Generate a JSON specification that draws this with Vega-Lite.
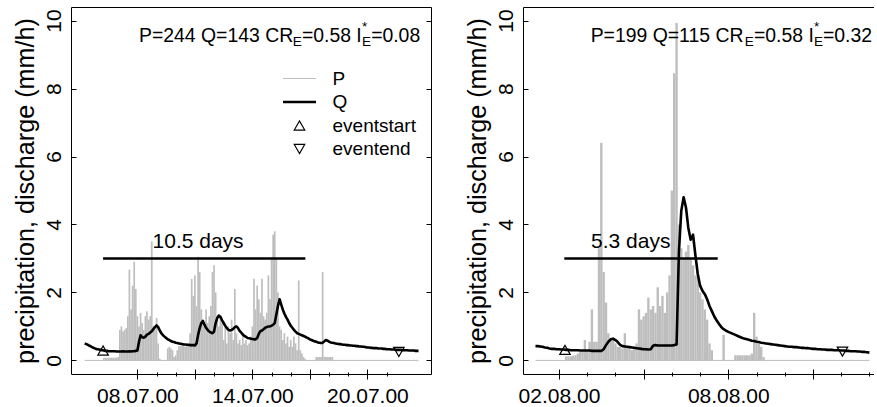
{
"$schema": "https://vega.github.io/schema/vega-lite/v6.json",
"padding": {"left": 13, "top": 7, "right": 0, "bottom": 0},
"config": {
  "font": "Liberation Sans",
  "view": {"stroke": null},
  "axis": {"grid": false, "domainColor": "black", "tickColor": "black", "labelColor": "black", "titleColor": "black", "labelFont": "Liberation Sans", "titleFont": "Liberation Sans", "labelFontSize": 21, "titleFontSize": 25.2, "titleFontWeight": "normal", "domainWidth": 1, "tickWidth": 1}
},
"datasets": {
"L": [
{"t":"2000-07-05T06:00","p":0,"q":0.50},{"t":"2000-07-05T08:00","p":0,"q":0.48},{"t":"2000-07-05T10:00","p":0,"q":0.46},{"t":"2000-07-05T12:00","p":0,"q":0.43},{"t":"2000-07-05T14:00","p":0,"q":0.41},{"t":"2000-07-05T16:00","p":0,"q":0.38},{"t":"2000-07-05T18:00","p":0,"q":0.36},{"t":"2000-07-05T20:00","p":0,"q":0.34},{"t":"2000-07-05T22:00","p":0,"q":0.33},
{"t":"2000-07-06T00:00","p":0,"q":0.32},{"t":"2000-07-06T02:00","p":0,"q":0.31},{"t":"2000-07-06T04:00","p":0,"q":0.30},{"t":"2000-07-06T06:00","p":0.08,"q":0.29},{"t":"2000-07-06T08:00","p":0.08,"q":0.28},{"t":"2000-07-06T10:00","p":0.08,"q":0.28},{"t":"2000-07-06T12:00","p":0.08,"q":0.27},{"t":"2000-07-06T14:00","p":0.08,"q":0.27},{"t":"2000-07-06T16:00","p":0.08,"q":0.27},{"t":"2000-07-06T18:00","p":0.08,"q":0.27},{"t":"2000-07-06T20:00","p":0.08,"q":0.27},{"t":"2000-07-06T22:00","p":0.08,"q":0.26},
{"t":"2000-07-07T00:00","p":0.1,"q":0.26},{"t":"2000-07-07T02:00","p":0.9,"q":0.26},{"t":"2000-07-07T04:00","p":1.0,"q":0.26},{"t":"2000-07-07T06:00","p":0.85,"q":0.27},{"t":"2000-07-07T08:00","p":0.9,"q":0.26},{"t":"2000-07-07T10:00","p":0.95,"q":0.26},{"t":"2000-07-07T12:00","p":1.3,"q":0.26},{"t":"2000-07-07T14:00","p":2.67,"q":0.27},{"t":"2000-07-07T16:00","p":1.5,"q":0.26},{"t":"2000-07-07T18:00","p":2.2,"q":0.27},{"t":"2000-07-07T20:00","p":2.9,"q":0.27},{"t":"2000-07-07T22:00","p":2.1,"q":0.28},
{"t":"2000-07-08T00:00","p":1.3,"q":0.29},{"t":"2000-07-08T02:00","p":1.0,"q":0.55},{"t":"2000-07-08T04:00","p":1.4,"q":0.74},{"t":"2000-07-08T06:00","p":1.1,"q":0.68},{"t":"2000-07-08T08:00","p":0.9,"q":0.67},{"t":"2000-07-08T10:00","p":1.3,"q":0.70},{"t":"2000-07-08T12:00","p":1.45,"q":0.76},{"t":"2000-07-08T14:00","p":1.2,"q":0.78},{"t":"2000-07-08T16:00","p":1.3,"q":0.82},{"t":"2000-07-08T18:00","p":3.5,"q":0.86},{"t":"2000-07-08T20:00","p":1.0,"q":0.92},{"t":"2000-07-08T22:00","p":0.9,"q":0.98},
{"t":"2000-07-09T00:00","p":1.25,"q":1.03},{"t":"2000-07-09T02:00","p":0.5,"q":0.98},{"t":"2000-07-09T04:00","p":0.05,"q":0.88},{"t":"2000-07-09T06:00","p":0,"q":0.80},{"t":"2000-07-09T08:00","p":0,"q":0.74},{"t":"2000-07-09T10:00","p":0,"q":0.70},{"t":"2000-07-09T12:00","p":0,"q":0.66},{"t":"2000-07-09T14:00","p":0.35,"q":0.62},{"t":"2000-07-09T16:00","p":0.4,"q":0.60},{"t":"2000-07-09T18:00","p":0.35,"q":0.57},{"t":"2000-07-09T20:00","p":0.3,"q":0.55},{"t":"2000-07-09T22:00","p":0.1,"q":0.54},
{"t":"2000-07-10T00:00","p":0.15,"q":0.52},{"t":"2000-07-10T02:00","p":0.3,"q":0.51},{"t":"2000-07-10T04:00","p":0.42,"q":0.50},{"t":"2000-07-10T06:00","p":0.42,"q":0.49},{"t":"2000-07-10T08:00","p":0.45,"q":0.48},{"t":"2000-07-10T10:00","p":0.42,"q":0.47},{"t":"2000-07-10T12:00","p":0.4,"q":0.47},{"t":"2000-07-10T14:00","p":0.45,"q":0.46},{"t":"2000-07-10T16:00","p":0.5,"q":0.46},{"t":"2000-07-10T18:00","p":0.8,"q":0.45},{"t":"2000-07-10T20:00","p":2.4,"q":0.45},{"t":"2000-07-10T22:00","p":1.9,"q":0.45},
{"t":"2000-07-11T00:00","p":2.5,"q":0.44},{"t":"2000-07-11T02:00","p":1.6,"q":0.50},{"t":"2000-07-11T04:00","p":3.05,"q":0.75},{"t":"2000-07-11T06:00","p":2.6,"q":0.95},{"t":"2000-07-11T08:00","p":1.5,"q":1.10},{"t":"2000-07-11T10:00","p":1.2,"q":1.16},{"t":"2000-07-11T12:00","p":1.0,"q":1.05},{"t":"2000-07-11T14:00","p":1.5,"q":0.96},{"t":"2000-07-11T16:00","p":1.1,"q":0.90},{"t":"2000-07-11T18:00","p":1.3,"q":0.85},{"t":"2000-07-11T20:00","p":1.6,"q":0.82},{"t":"2000-07-11T22:00","p":2.6,"q":0.80},
{"t":"2000-07-12T00:00","p":2.8,"q":0.85},{"t":"2000-07-12T02:00","p":2.0,"q":1.10},{"t":"2000-07-12T04:00","p":1.2,"q":1.25},{"t":"2000-07-12T06:00","p":1.0,"q":1.32},{"t":"2000-07-12T08:00","p":1.3,"q":1.28},{"t":"2000-07-12T10:00","p":1.1,"q":1.18},{"t":"2000-07-12T12:00","p":0.6,"q":1.10},{"t":"2000-07-12T14:00","p":1.0,"q":1.02},{"t":"2000-07-12T16:00","p":0.5,"q":0.95},{"t":"2000-07-12T18:00","p":1.0,"q":0.90},{"t":"2000-07-12T20:00","p":0.8,"q":0.88},{"t":"2000-07-12T22:00","p":1.2,"q":0.90},
{"t":"2000-07-13T00:00","p":0.6,"q":0.93},{"t":"2000-07-13T02:00","p":2.1,"q":0.98},{"t":"2000-07-13T04:00","p":0.8,"q":1.00},{"t":"2000-07-13T06:00","p":0.5,"q":0.95},{"t":"2000-07-13T08:00","p":0.6,"q":0.87},{"t":"2000-07-13T10:00","p":0.45,"q":0.82},{"t":"2000-07-13T12:00","p":0.8,"q":0.76},{"t":"2000-07-13T14:00","p":0.5,"q":0.72},{"t":"2000-07-13T16:00","p":0.6,"q":0.69},{"t":"2000-07-13T18:00","p":0.45,"q":0.66},{"t":"2000-07-13T20:00","p":0.5,"q":0.65},{"t":"2000-07-13T22:00","p":0.7,"q":0.64},
{"t":"2000-07-14T00:00","p":1.0,"q":0.63},{"t":"2000-07-14T02:00","p":2.4,"q":0.62},{"t":"2000-07-14T04:00","p":1.5,"q":0.62},{"t":"2000-07-14T06:00","p":2.2,"q":0.66},{"t":"2000-07-14T08:00","p":1.8,"q":0.78},{"t":"2000-07-14T10:00","p":1.4,"q":0.86},{"t":"2000-07-14T12:00","p":2.4,"q":0.88},{"t":"2000-07-14T14:00","p":1.3,"q":0.92},{"t":"2000-07-14T16:00","p":1.2,"q":0.96},{"t":"2000-07-14T18:00","p":1.4,"q":0.98},{"t":"2000-07-14T20:00","p":2.5,"q":1.00},{"t":"2000-07-14T22:00","p":1.8,"q":1.00},
{"t":"2000-07-15T00:00","p":3.0,"q":1.02},{"t":"2000-07-15T02:00","p":3.7,"q":1.05},{"t":"2000-07-15T04:00","p":3.8,"q":1.10},{"t":"2000-07-15T06:00","p":3.0,"q":1.35},{"t":"2000-07-15T08:00","p":2.0,"q":1.60},{"t":"2000-07-15T10:00","p":1.0,"q":1.80},{"t":"2000-07-15T12:00","p":0.9,"q":1.65},{"t":"2000-07-15T14:00","p":0.6,"q":1.50},{"t":"2000-07-15T16:00","p":0.8,"q":1.38},{"t":"2000-07-15T18:00","p":0.5,"q":1.28},{"t":"2000-07-15T20:00","p":0.7,"q":1.20},{"t":"2000-07-15T22:00","p":0.4,"q":1.10},
{"t":"2000-07-16T00:00","p":0.6,"q":1.02},{"t":"2000-07-16T02:00","p":0.4,"q":0.96},{"t":"2000-07-16T04:00","p":0.7,"q":0.90},{"t":"2000-07-16T06:00","p":0.5,"q":0.85},{"t":"2000-07-16T08:00","p":0.3,"q":0.80},{"t":"2000-07-16T10:00","p":2.35,"q":0.78},{"t":"2000-07-16T12:00","p":0.3,"q":0.76},{"t":"2000-07-16T14:00","p":0.2,"q":0.74},{"t":"2000-07-16T16:00","p":0.1,"q":0.72},{"t":"2000-07-16T18:00","p":0.05,"q":0.70},{"t":"2000-07-16T20:00","p":0,"q":0.67},{"t":"2000-07-16T22:00","p":0,"q":0.65},
{"t":"2000-07-17T00:00","p":0,"q":0.62},{"t":"2000-07-17T02:00","p":0,"q":0.60},{"t":"2000-07-17T04:00","p":0,"q":0.58},{"t":"2000-07-17T06:00","p":0,"q":0.56},{"t":"2000-07-17T08:00","p":0.1,"q":0.55},{"t":"2000-07-17T10:00","p":0.1,"q":0.53},{"t":"2000-07-17T12:00","p":0.1,"q":0.52},{"t":"2000-07-17T14:00","p":0.1,"q":0.51},{"t":"2000-07-17T16:00","p":2.6,"q":0.52},{"t":"2000-07-17T18:00","p":0.1,"q":0.56},{"t":"2000-07-17T20:00","p":0.1,"q":0.60},{"t":"2000-07-17T22:00","p":0.1,"q":0.58},
{"t":"2000-07-18T00:00","p":0.1,"q":0.55},{"t":"2000-07-18T02:00","p":0.1,"q":0.53},{"t":"2000-07-18T04:00","p":0.1,"q":0.52},{"t":"2000-07-18T06:00","p":0,"q":0.51},{"t":"2000-07-18T08:00","p":0,"q":0.50},{"t":"2000-07-18T10:00","p":0,"q":0.49},{"t":"2000-07-18T12:00","p":0,"q":0.48},{"t":"2000-07-18T14:00","p":0,"q":0.48},{"t":"2000-07-18T16:00","p":0,"q":0.47},{"t":"2000-07-18T18:00","p":0,"q":0.46},{"t":"2000-07-18T20:00","p":0,"q":0.46},{"t":"2000-07-18T22:00","p":0,"q":0.45},
{"t":"2000-07-19T00:00","p":0,"q":0.45},{"t":"2000-07-19T02:00","p":0,"q":0.44},{"t":"2000-07-19T04:00","p":0,"q":0.44},{"t":"2000-07-19T06:00","p":0,"q":0.43},{"t":"2000-07-19T08:00","p":0,"q":0.43},{"t":"2000-07-19T10:00","p":0,"q":0.42},{"t":"2000-07-19T12:00","p":0,"q":0.42},{"t":"2000-07-19T14:00","p":0,"q":0.41},{"t":"2000-07-19T16:00","p":0,"q":0.41},{"t":"2000-07-19T18:00","p":0,"q":0.40},{"t":"2000-07-19T20:00","p":0,"q":0.40},{"t":"2000-07-19T22:00","p":0,"q":0.39},
{"t":"2000-07-20T00:00","p":0,"q":0.38},{"t":"2000-07-20T02:00","p":0,"q":0.38},{"t":"2000-07-20T04:00","p":0,"q":0.37},{"t":"2000-07-20T06:00","p":0,"q":0.37},{"t":"2000-07-20T08:00","p":0,"q":0.36},{"t":"2000-07-20T10:00","p":0,"q":0.36},{"t":"2000-07-20T12:00","p":0,"q":0.36},{"t":"2000-07-20T14:00","p":0,"q":0.35},{"t":"2000-07-20T16:00","p":0,"q":0.35},{"t":"2000-07-20T18:00","p":0,"q":0.35},{"t":"2000-07-20T20:00","p":0,"q":0.34},{"t":"2000-07-20T22:00","p":0,"q":0.34},
{"t":"2000-07-21T00:00","p":0,"q":0.33},{"t":"2000-07-21T02:00","p":0,"q":0.33},{"t":"2000-07-21T04:00","p":0,"q":0.33},{"t":"2000-07-21T06:00","p":0,"q":0.32},{"t":"2000-07-21T08:00","p":0,"q":0.32},{"t":"2000-07-21T10:00","p":0,"q":0.32},{"t":"2000-07-21T12:00","p":0,"q":0.31},{"t":"2000-07-21T14:00","p":0,"q":0.31},{"t":"2000-07-21T16:00","p":0,"q":0.31},{"t":"2000-07-21T18:00","p":0,"q":0.31},{"t":"2000-07-21T20:00","p":0,"q":0.30},{"t":"2000-07-21T22:00","p":0,"q":0.30},
{"t":"2000-07-22T00:00","p":0,"q":0.30},{"t":"2000-07-22T02:00","p":0,"q":0.30},{"t":"2000-07-22T04:00","p":0,"q":0.29},{"t":"2000-07-22T06:00","p":0,"q":0.29},{"t":"2000-07-22T08:00","p":0,"q":0.29},{"t":"2000-07-22T10:00","p":0,"q":0.29},{"t":"2000-07-22T12:00","p":0,"q":0.28},{"t":"2000-07-22T14:00","p":0,"q":0.28},{"t":"2000-07-22T16:00","p":0,"q":0.28}
],
"R": [
{"t":"2000-08-01T04:00","p":0,"q":0.42},{"t":"2000-08-01T06:00","p":0,"q":0.42},{"t":"2000-08-01T08:00","p":0,"q":0.41},{"t":"2000-08-01T10:00","p":0,"q":0.40},{"t":"2000-08-01T12:00","p":0,"q":0.38},{"t":"2000-08-01T14:00","p":0,"q":0.37},{"t":"2000-08-01T16:00","p":0,"q":0.35},{"t":"2000-08-01T18:00","p":0,"q":0.34},{"t":"2000-08-01T20:00","p":0,"q":0.34},{"t":"2000-08-01T22:00","p":0,"q":0.33},
{"t":"2000-08-02T00:00","p":0,"q":0.33},{"t":"2000-08-02T02:00","p":0,"q":0.32},{"t":"2000-08-02T04:00","p":0,"q":0.32},{"t":"2000-08-02T06:00","p":0.12,"q":0.31},{"t":"2000-08-02T08:00","p":0.12,"q":0.31},{"t":"2000-08-02T10:00","p":0.12,"q":0.30},{"t":"2000-08-02T12:00","p":0.14,"q":0.30},{"t":"2000-08-02T14:00","p":0.15,"q":0.30},{"t":"2000-08-02T16:00","p":0.2,"q":0.30},{"t":"2000-08-02T18:00","p":0.25,"q":0.29},{"t":"2000-08-02T20:00","p":0.3,"q":0.29},{"t":"2000-08-02T22:00","p":0.6,"q":0.29},
{"t":"2000-08-03T00:00","p":0.3,"q":0.29},{"t":"2000-08-03T02:00","p":0.55,"q":0.29},{"t":"2000-08-03T04:00","p":1.5,"q":0.28},{"t":"2000-08-03T06:00","p":0.55,"q":0.28},{"t":"2000-08-03T08:00","p":0.55,"q":0.28},{"t":"2000-08-03T10:00","p":3.3,"q":0.28},{"t":"2000-08-03T12:00","p":6.4,"q":0.28},{"t":"2000-08-03T14:00","p":2.6,"q":0.33},{"t":"2000-08-03T16:00","p":1.7,"q":0.45},{"t":"2000-08-03T18:00","p":0.8,"q":0.55},{"t":"2000-08-03T20:00","p":0.65,"q":0.62},{"t":"2000-08-03T22:00","p":0.6,"q":0.64},
{"t":"2000-08-04T00:00","p":0.5,"q":0.60},{"t":"2000-08-04T02:00","p":0.4,"q":0.54},{"t":"2000-08-04T04:00","p":0.4,"q":0.46},{"t":"2000-08-04T06:00","p":0.35,"q":0.42},{"t":"2000-08-04T08:00","p":0.8,"q":0.41},{"t":"2000-08-04T10:00","p":0.4,"q":0.40},{"t":"2000-08-04T12:00","p":0.35,"q":0.39},{"t":"2000-08-04T14:00","p":0.3,"q":0.38},{"t":"2000-08-04T16:00","p":0.4,"q":0.37},{"t":"2000-08-04T18:00","p":0.5,"q":0.36},{"t":"2000-08-04T20:00","p":1.5,"q":0.35},{"t":"2000-08-04T22:00","p":1.2,"q":0.34},
{"t":"2000-08-05T00:00","p":1.3,"q":0.33},{"t":"2000-08-05T02:00","p":1.4,"q":0.33},{"t":"2000-08-05T04:00","p":1.85,"q":0.32},{"t":"2000-08-05T06:00","p":1.5,"q":0.33},{"t":"2000-08-05T08:00","p":1.6,"q":0.43},{"t":"2000-08-05T10:00","p":1.4,"q":0.45},{"t":"2000-08-05T12:00","p":2.15,"q":0.44},{"t":"2000-08-05T14:00","p":1.6,"q":0.44},{"t":"2000-08-05T16:00","p":1.9,"q":0.44},{"t":"2000-08-05T18:00","p":1.4,"q":0.44},{"t":"2000-08-05T20:00","p":2.0,"q":0.44},{"t":"2000-08-05T22:00","p":2.5,"q":0.44},
{"t":"2000-08-06T00:00","p":5.0,"q":0.44},{"t":"2000-08-06T02:00","p":8.45,"q":0.45},{"t":"2000-08-06T04:00","p":9.93,"q":0.47},{"t":"2000-08-06T06:00","p":4.0,"q":3.2},{"t":"2000-08-06T08:00","p":3.3,"q":4.4},{"t":"2000-08-06T10:00","p":3.0,"q":4.8},{"t":"2000-08-06T12:00","p":3.2,"q":4.5},{"t":"2000-08-06T14:00","p":3.4,"q":3.9},{"t":"2000-08-06T16:00","p":3.0,"q":3.55},{"t":"2000-08-06T18:00","p":2.8,"q":3.7},{"t":"2000-08-06T20:00","p":2.5,"q":3.1},{"t":"2000-08-06T22:00","p":2.6,"q":2.55},
{"t":"2000-08-07T00:00","p":2.0,"q":2.2},{"t":"2000-08-07T02:00","p":1.8,"q":2.05},{"t":"2000-08-07T04:00","p":1.5,"q":1.95},{"t":"2000-08-07T06:00","p":1.2,"q":1.8},{"t":"2000-08-07T08:00","p":0.5,"q":1.6},{"t":"2000-08-07T10:00","p":0.3,"q":1.45},{"t":"2000-08-07T12:00","p":0,"q":1.3},{"t":"2000-08-07T14:00","p":0,"q":1.18},{"t":"2000-08-07T16:00","p":0,"q":1.08},{"t":"2000-08-07T18:00","p":0,"q":0.98},{"t":"2000-08-07T20:00","p":0.75,"q":0.92},{"t":"2000-08-07T22:00","p":0,"q":0.88},
{"t":"2000-08-08T00:00","p":0,"q":0.84},{"t":"2000-08-08T02:00","p":0,"q":0.81},{"t":"2000-08-08T04:00","p":0,"q":0.78},{"t":"2000-08-08T06:00","p":0.15,"q":0.75},{"t":"2000-08-08T08:00","p":0.15,"q":0.72},{"t":"2000-08-08T10:00","p":0.15,"q":0.69},{"t":"2000-08-08T12:00","p":0.15,"q":0.66},{"t":"2000-08-08T14:00","p":0.15,"q":0.64},{"t":"2000-08-08T16:00","p":0.15,"q":0.62},{"t":"2000-08-08T18:00","p":0.15,"q":0.60},{"t":"2000-08-08T20:00","p":0.2,"q":0.58},{"t":"2000-08-08T22:00","p":1.4,"q":0.57},
{"t":"2000-08-09T00:00","p":0.7,"q":0.55},{"t":"2000-08-09T02:00","p":0.5,"q":0.54},{"t":"2000-08-09T04:00","p":0.4,"q":0.52},{"t":"2000-08-09T06:00","p":0.1,"q":0.51},{"t":"2000-08-09T08:00","p":0,"q":0.50},{"t":"2000-08-09T10:00","p":0,"q":0.49},{"t":"2000-08-09T12:00","p":0,"q":0.48},{"t":"2000-08-09T14:00","p":0,"q":0.47},{"t":"2000-08-09T16:00","p":0,"q":0.46},{"t":"2000-08-09T18:00","p":0,"q":0.45},{"t":"2000-08-09T20:00","p":0,"q":0.44},{"t":"2000-08-09T22:00","p":0,"q":0.43},
{"t":"2000-08-10T00:00","p":0,"q":0.42},{"t":"2000-08-10T02:00","p":0,"q":0.41},{"t":"2000-08-10T04:00","p":0,"q":0.40},{"t":"2000-08-10T06:00","p":0,"q":0.40},{"t":"2000-08-10T08:00","p":0,"q":0.39},{"t":"2000-08-10T10:00","p":0,"q":0.39},{"t":"2000-08-10T12:00","p":0,"q":0.38},{"t":"2000-08-10T14:00","p":0,"q":0.37},{"t":"2000-08-10T16:00","p":0,"q":0.37},{"t":"2000-08-10T18:00","p":0,"q":0.36},{"t":"2000-08-10T20:00","p":0,"q":0.36},{"t":"2000-08-10T22:00","p":0,"q":0.35},
{"t":"2000-08-11T00:00","p":0,"q":0.34},{"t":"2000-08-11T02:00","p":0,"q":0.34},{"t":"2000-08-11T04:00","p":0,"q":0.33},{"t":"2000-08-11T06:00","p":0,"q":0.33},{"t":"2000-08-11T08:00","p":0,"q":0.32},{"t":"2000-08-11T10:00","p":0,"q":0.32},{"t":"2000-08-11T12:00","p":0,"q":0.31},{"t":"2000-08-11T14:00","p":0,"q":0.31},{"t":"2000-08-11T16:00","p":0,"q":0.31},{"t":"2000-08-11T18:00","p":0,"q":0.30},{"t":"2000-08-11T20:00","p":0,"q":0.30},{"t":"2000-08-11T22:00","p":0,"q":0.30},
{"t":"2000-08-12T00:00","p":0,"q":0.29},{"t":"2000-08-12T02:00","p":0,"q":0.29},{"t":"2000-08-12T04:00","p":0,"q":0.28},{"t":"2000-08-12T06:00","p":0,"q":0.28},{"t":"2000-08-12T08:00","p":0,"q":0.27},{"t":"2000-08-12T10:00","p":0,"q":0.27},{"t":"2000-08-12T12:00","p":0,"q":0.27},{"t":"2000-08-12T14:00","p":0,"q":0.26},{"t":"2000-08-12T16:00","p":0,"q":0.26},{"t":"2000-08-12T18:00","p":0,"q":0.25},{"t":"2000-08-12T20:00","p":0,"q":0.25},{"t":"2000-08-12T22:00","p":0,"q":0.24},
{"t":"2000-08-13T00:00","p":0,"q":0.23}
],
"evL": [{"t":"2000-07-06T05:02","y":0.29,"k":"eventstart"},{"t":"2000-07-21T15:23","y":0.25,"k":"eventend"}],
"evR": [{"t":"2000-08-02T05:07","y":0.31,"k":"eventstart"},{"t":"2000-08-12T01:06","y":0.26,"k":"eventend"}],
"durL": [{"t":"2000-07-06T05:02","t2":"2000-07-16T18:19","y":3,"tm":"2000-07-11T03:59","ty":3.32,"s":"10.5 days"}],
"durR": [{"t":"2000-08-02T04:30","t2":"2000-08-07T15:00","y":3,"tm":"2000-08-04T13:03","ty":3.32,"s":"5.3 days"}],
"annL": [
{"t":"2000-07-08T02:00","y":9.37,"s":"P=244 Q=143 CR","k":"main"},
{"t":"2000-07-16T02:40","y":9.25,"s":"E","k":"small"},
{"t":"2000-07-16T14:00","y":9.37,"s":"=0.58 I","k":"main"},
{"t":"2000-07-19T17:20","y":9.25,"s":"E","k":"small"},
{"t":"2000-07-19T17:20","y":9.68,"s":"*","k":"small"},
{"t":"2000-07-20T04:40","y":9.37,"s":"=0.08","k":"main"}],
"annR": [
{"t":"2000-08-03T02:57","y":9.37,"s":"P=199 Q=115 CR","k":"main"},
{"t":"2000-08-08T14:05","y":9.25,"s":"E","k":"small"},
{"t":"2000-08-08T21:50","y":9.37,"s":"=0.58 I","k":"main"},
{"t":"2000-08-11T00:47","y":9.25,"s":"E","k":"small"},
{"t":"2000-08-11T00:47","y":9.68,"s":"*","k":"small"},
{"t":"2000-08-11T08:31","y":9.37,"s":"=0.32","k":"main"}]
},
"spacing": 92,
"bounds": "flush",
"hconcat": [
{
 "width": 360, "height": 367,
 "resolve": {"axis": {"x": "independent", "y": "independent"}},
 "layer": [
  {"data": {"name": "L"},
   "mark": {"type": "rule", "color": "#bebebe", "strokeWidth": 1},
   "encoding": {
    "x": {"aggregate": "min", "field": "t", "type": "temporal", "scale": {"domain": [{"year":2000,"month":7,"date":4,"hours":12,"minutes":52},{"year":2000,"month":7,"date":23,"hours":7,"minutes":38}], "nice": false},
      "axis": {"orient": "bottom", "values": [{"year":2000,"month":7,"date":8},{"year":2000,"month":7,"date":11},{"year":2000,"month":7,"date":14},{"year":2000,"month":7,"date":17},{"year":2000,"month":7,"date":20}], "format": "%d.%m.%y", "labelExpr": "(date(datum.value) == 11 || date(datum.value) == 17) ? '' : datum.label", "offset": -5, "tickSize": 10, "domain": false, "labelPadding": 23.9, "labelBaseline": "alphabetic", "labelAlign": "center", "labelAngle": 0, "labelFlush": false, "labelOverlap": false, "title": null}},
    "x2": {"aggregate": "max", "field": "t"},
    "y": {"datum": 0, "type": "quantitative", "scale": {"domain": [-0.4, 10.4], "nice": false, "zero": false},
      "axis": {"orient": "left", "values": [0,2,4,6,8,10], "offset": -5, "tickSize": 5, "domain": false, "labelAngle": -90, "labelAlign": "center", "labelBaseline": "alphabetic", "labelPadding": 10.6, "title": null}}
   }},
  {"data": {"name": "L"},
   "mark": {"type": "rule", "strokeWidth": 1.7},
   "encoding": {
    "x": {"field": "t", "type": "temporal", "scale": {"domain": [{"year":2000,"month":7,"date":4,"hours":12,"minutes":52},{"year":2000,"month":7,"date":23,"hours":7,"minutes":38}], "nice": false},
      "axis": {"orient": "bottom", "values": [{"year":2000,"month":7,"date":8},{"year":2000,"month":7,"date":9},{"year":2000,"month":7,"date":10},{"year":2000,"month":7,"date":11},{"year":2000,"month":7,"date":12},{"year":2000,"month":7,"date":13},{"year":2000,"month":7,"date":14},{"year":2000,"month":7,"date":15},{"year":2000,"month":7,"date":16},{"year":2000,"month":7,"date":17},{"year":2000,"month":7,"date":18},{"year":2000,"month":7,"date":19},{"year":2000,"month":7,"date":20},{"year":2000,"month":7,"date":21}], "tickSize": 4, "offset": -2, "labels": false, "domain": false, "title": null}},
    "y": {"field": "p", "type": "quantitative", "scale": {"domain": [-0.4, 10.4], "nice": false, "zero": false},
      "axis": {"orient": "right", "values": [0,2,4,6,8,10], "offset": -5, "tickSize": 5, "domain": false, "labels": false, "title": null}},
    "y2": {"datum": 0},
    "color": {"datum": "P", "type": "nominal", "title": null, "scale": {"domain": ["P","Q","eventstart","eventend"], "range": ["#bebebe","black","black","black"]},
      "legend": {"orient": "none", "legendX": 219, "legendY": 62, "title": null, "padding": 0, "labelFont": "Liberation Sans", "labelFontSize": 19, "labelColor": "black", "symbolSize": 100, "labelOffset": 23.5, "rowPadding": 3.5,
        "encode": {"symbols": {"update": {
          "shape": {"signal": "datum.value === 'eventstart' ? 'triangle-up' : datum.value === 'eventend' ? 'triangle-down' : 'stroke'"},
          "size": {"signal": "datum.value === 'P' || datum.value === 'Q' ? 1089 : 110"},
          "strokeWidth": {"signal": "datum.value === 'Q' ? 2.6 : datum.value === 'P' ? 1 : 1.2"},
          "stroke": {"signal": "datum.value === 'P' ? '#bebebe' : 'black'"},
          "fill": {"value": "transparent"},
          "opacity": {"value": 1}}}}}}
   }},
  {"data": {"name": "L"},
   "mark": {"type": "line", "strokeWidth": 2.6, "strokeJoin": "round"},
   "encoding": {
    "x": {"field": "t", "type": "temporal", "scale": {"domain": [{"year":2000,"month":7,"date":4,"hours":12,"minutes":52},{"year":2000,"month":7,"date":23,"hours":7,"minutes":38}], "nice": false},
      "axis": {"orient": "bottom", "domain": true, "ticks": false, "labels": false, "title": null}},
    "y": {"field": "q", "type": "quantitative", "scale": {"domain": [-0.4, 10.4], "nice": false, "zero": false},
      "axis": {"orient": "left", "domain": true, "ticks": false, "labels": false, "title": "precipitation, discharge (mm/h)", "titlePadding": 38, "titleBaseline": "alphabetic"}},
    "color": {"datum": "Q", "type": "nominal", "title": null}
   }},
  {"data": {"name": "evL"},
   "mark": {"type": "point", "filled": false, "size": 110, "strokeWidth": 1.2, "opacity": 1},
   "encoding": {
    "x": {"field": "t", "type": "temporal", "scale": {"domain": [{"year":2000,"month":7,"date":4,"hours":12,"minutes":52},{"year":2000,"month":7,"date":23,"hours":7,"minutes":38}], "nice": false},
      "axis": {"orient": "top", "domain": true, "ticks": false, "labels": false, "title": null}},
    "y": {"field": "y", "type": "quantitative", "scale": {"domain": [-0.4, 10.4], "nice": false, "zero": false},
      "axis": {"orient": "right", "domain": true, "ticks": false, "labels": false, "title": null}},
    "color": {"field": "k", "type": "nominal", "title": null},
    "shape": {"field": "k", "type": "nominal", "title": null, "scale": {"domain": ["eventstart","eventend"], "range": ["triangle-up","triangle-down"]}, "legend": null}
   }},
  {"data": {"name": "durL"},
   "mark": {"type": "rule", "color": "black", "strokeWidth": 2.6},
   "encoding": {
    "x": {"field": "t", "type": "temporal", "axis": null},
    "x2": {"field": "t2"},
    "y": {"field": "y", "type": "quantitative", "axis": null}
   }},
  {"data": {"name": "durL"},
   "mark": {"type": "text", "fontSize": 21, "align": "center", "baseline": "alphabetic", "color": "black"},
   "encoding": {
    "x": {"field": "tm", "type": "temporal", "axis": null},
    "y": {"field": "ty", "type": "quantitative", "axis": null},
    "text": {"field": "s"}
   }},
  {"data": {"name": "annL"},
   "transform": [{"filter": "datum.k == 'main'"}],
   "mark": {"type": "text", "fontSize": 19.4, "align": "left", "baseline": "alphabetic", "color": "black"},
   "encoding": {
    "x": {"field": "t", "type": "temporal", "axis": null},
    "y": {"field": "y", "type": "quantitative", "axis": null},
    "text": {"field": "s"}
   }},
  {"data": {"name": "annL"},
   "transform": [{"filter": "datum.k == 'small'"}],
   "mark": {"type": "text", "fontSize": 13.6, "align": "left", "baseline": "alphabetic", "color": "black"},
   "encoding": {
    "x": {"field": "t", "type": "temporal", "axis": null},
    "y": {"field": "y", "type": "quantitative", "axis": null},
    "text": {"field": "s"}
   }}
 ]
},
{
 "width": 351, "height": 367,
 "resolve": {"axis": {"x": "independent", "y": "independent"}},
 "layer": [
  {"data": {"name": "R"},
   "mark": {"type": "rule", "color": "#bebebe", "strokeWidth": 1},
   "encoding": {
    "x": {"aggregate": "min", "field": "t", "type": "temporal", "scale": {"domain": [{"year":2000,"month":7,"date":31,"hours":17,"minutes":23},{"year":2000,"month":8,"date":13,"hours":3,"minutes":55}], "nice": false},
      "axis": {"orient": "bottom", "values": [{"year":2000,"month":8,"date":2},{"year":2000,"month":8,"date":5},{"year":2000,"month":8,"date":8},{"year":2000,"month":8,"date":11}], "format": "%d.%m.%y", "labelExpr": "(date(datum.value) == 5 || date(datum.value) == 11) ? '' : datum.label", "offset": -5, "tickSize": 10, "domain": false, "labelPadding": 23.9, "labelBaseline": "alphabetic", "labelAlign": "center", "labelAngle": 0, "labelFlush": false, "labelOverlap": false, "title": null}},
    "x2": {"aggregate": "max", "field": "t"},
    "y": {"datum": 0, "type": "quantitative", "scale": {"domain": [-0.4, 10.4], "nice": false, "zero": false},
      "axis": {"orient": "left", "values": [0,2,4,6,8,10], "offset": -5, "tickSize": 5, "domain": false, "labelAngle": -90, "labelAlign": "center", "labelBaseline": "alphabetic", "labelPadding": 10.6, "title": null}}
   }},
  {"data": {"name": "R"},
   "mark": {"type": "rule", "strokeWidth": 2.4, "color": "#bebebe"},
   "encoding": {
    "x": {"field": "t", "type": "temporal", "scale": {"domain": [{"year":2000,"month":7,"date":31,"hours":17,"minutes":23},{"year":2000,"month":8,"date":13,"hours":3,"minutes":55}], "nice": false},
      "axis": {"orient": "bottom", "values": [{"year":2000,"month":8,"date":2},{"year":2000,"month":8,"date":3},{"year":2000,"month":8,"date":4},{"year":2000,"month":8,"date":5},{"year":2000,"month":8,"date":6},{"year":2000,"month":8,"date":7},{"year":2000,"month":8,"date":8},{"year":2000,"month":8,"date":9},{"year":2000,"month":8,"date":10},{"year":2000,"month":8,"date":11},{"year":2000,"month":8,"date":12},{"year":2000,"month":8,"date":13}], "tickSize": 4, "offset": -2, "labels": false, "domain": false, "title": null}},
    "y": {"field": "p", "type": "quantitative", "scale": {"domain": [-0.4, 10.4], "nice": false, "zero": false}, "axis": null},
    "y2": {"datum": 0}
   }},
  {"data": {"name": "R"},
   "mark": {"type": "line", "strokeWidth": 2.6, "strokeJoin": "round", "color": "black"},
   "encoding": {
    "x": {"field": "t", "type": "temporal", "scale": {"domain": [{"year":2000,"month":7,"date":31,"hours":17,"minutes":23},{"year":2000,"month":8,"date":13,"hours":3,"minutes":55}], "nice": false},
      "axis": {"orient": "bottom", "domain": true, "ticks": false, "labels": false, "title": null}},
    "y": {"field": "q", "type": "quantitative", "scale": {"domain": [-0.4, 10.4], "nice": false, "zero": false},
      "axis": {"orient": "left", "domain": true, "ticks": false, "labels": false, "title": "precipitation, discharge (mm/h)", "titlePadding": 38, "titleBaseline": "alphabetic"}}
   }},
  {"data": {"name": "evR"},
   "mark": {"type": "point", "filled": false, "size": 110, "strokeWidth": 1.2, "opacity": 1, "color": "black"},
   "encoding": {
    "x": {"field": "t", "type": "temporal", "scale": {"domain": [{"year":2000,"month":7,"date":31,"hours":17,"minutes":23},{"year":2000,"month":8,"date":13,"hours":3,"minutes":55}], "nice": false},
      "axis": {"orient": "top", "domain": true, "ticks": false, "labels": false, "title": null}},
    "y": {"field": "y", "type": "quantitative", "scale": {"domain": [-0.4, 10.4], "nice": false, "zero": false}, "axis": null},
    "shape": {"field": "k", "type": "nominal", "title": null, "scale": {"domain": ["eventstart","eventend"], "range": ["triangle-up","triangle-down"]}, "legend": null}
   }},
  {"data": {"name": "durR"},
   "mark": {"type": "rule", "color": "black", "strokeWidth": 2.6},
   "encoding": {
    "x": {"field": "t", "type": "temporal", "axis": null},
    "x2": {"field": "t2"},
    "y": {"field": "y", "type": "quantitative", "axis": null}
   }},
  {"data": {"name": "durR"},
   "mark": {"type": "text", "fontSize": 21, "align": "center", "baseline": "alphabetic", "color": "black"},
   "encoding": {
    "x": {"field": "tm", "type": "temporal", "axis": null},
    "y": {"field": "ty", "type": "quantitative", "axis": null},
    "text": {"field": "s"}
   }},
  {"data": {"name": "annR"},
   "transform": [{"filter": "datum.k == 'main'"}],
   "mark": {"type": "text", "fontSize": 19.4, "align": "left", "baseline": "alphabetic", "color": "black"},
   "encoding": {
    "x": {"field": "t", "type": "temporal", "axis": null},
    "y": {"field": "y", "type": "quantitative", "axis": null},
    "text": {"field": "s"}
   }},
  {"data": {"name": "annR"},
   "transform": [{"filter": "datum.k == 'small'"}],
   "mark": {"type": "text", "fontSize": 13.6, "align": "left", "baseline": "alphabetic", "color": "black"},
   "encoding": {
    "x": {"field": "t", "type": "temporal", "axis": null},
    "y": {"field": "y", "type": "quantitative", "axis": null},
    "text": {"field": "s"}
   }}
 ]
}
]
}
